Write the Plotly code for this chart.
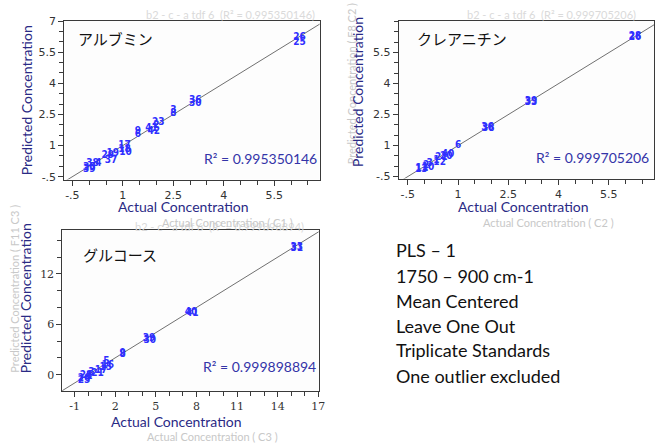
import plotly.graph_objects as go

W, H = 668, 443

# ---------------- data ----------------
alb_labels = ["26", "25", "36", "30", "3", "8", "23", "2", "41", "42", "9", "6",
              "17", "18", "10", "19", "29", "37", "4", "38", "35", "39"]
alb_actual = [6.25, 6.25, 3.15, 3.15, 2.5, 2.5, 2.05, 2.0, 1.85, 1.92, 1.45, 1.45,
              1.05, 1.05, 1.08, 0.7, 0.55, 0.65, 0.27, 0.1, 0.0, 0.0]
alb_pred = [6.2, 5.97, 3.15, 3.02, 2.68, 2.54, 2.12, 1.95, 1.82, 1.68, 1.7, 1.52,
            1.0, 0.8, 0.65, 0.6, 0.5, 0.3, 0.12, 0.15, -0.05, -0.15]
alb_r2 = "R² = 0.995350146"

cre_labels = ["28", "26", "39", "33", "36", "38", "6", "40", "20", "21", "12", "1",
              "3", "2", "10", "11", "13"]
cre_actual = [6.28, 6.28, 3.18, 3.18, 1.88, 1.9, 1.0, 0.7, 0.65, 0.5, 0.45, 0.35,
              0.15, 0.05, 0.1, -0.08, -0.1]
cre_pred = [6.28, 6.22, 3.12, 3.08, 1.86, 1.82, 1.02, 0.55, 0.48, 0.4, 0.18, 0.3,
            0.15, 0.05, -0.05, -0.1, -0.15]
cre_r2 = "R² = 0.999705206"

glu_labels = ["33", "31", "40", "41", "39", "30", "9", "8", "5", "16", "15", "17",
              "21", "3", "28", "26", "25", "1"]
glu_actual = [15.4, 15.4, 7.6, 7.7, 4.5, 4.55, 2.55, 2.55, 1.35, 1.45, 1.3, 0.95,
              0.7, 0.25, -0.15, -0.3, -0.3, 0.1]
glu_pred = [15.15, 15.0, 7.35, 7.25, 4.25, 4.1, 2.5, 2.35, 1.6, 1.05, 0.85, 0.5,
            0.15, 0.25, -0.1, -0.45, -0.7, -0.2]
glu_r2 = "R² = 0.999898894"

titles = ["アルブミン", "クレアニチン", "グルコース"]

top_ticks = [-0.5, 1, 2.5, 4, 5.5, 7]
top_tick_text = ["-.5", "1", "2.5", "4", "5.5", "7"]
cre_yticks = [-0.5, 1, 2.5, 4, 5.5]
cre_ytick_text = ["-.5", "1", "2.5", "4", "5.5"]
glu_xticks = [-1, 2, 5, 8, 11, 14, 17]
glu_yticks = [0, 6, 12]

notes = ["PLS – 1", "1750 – 900 cm-1", "Mean Centered", "Leave One Out",
         "Triplicate Standards", "One outlier excluded"]

# ---------------- helpers ----------------
def px_x(p):
    return p / W

def px_y(p):
    return 1 - p / H

POINT_COLOR = "#2f2fff"
TITLE_COLOR = "#2a2a85"
AXIS_COLOR = "#3a3a3a"

fig = go.Figure()

panels = [
    dict(lbl=alb_labels, x=alb_actual, y=alb_pred, xa="x", ya="y"),
    dict(lbl=cre_labels, x=cre_actual, y=cre_pred, xa="x2", ya="y2"),
    dict(lbl=glu_labels, x=glu_actual, y=glu_pred, xa="x3", ya="y3"),
]
diag = [[-2, 8], [-2, 8], [-3, 18]]

for p, d in zip(panels, diag):
    fig.add_trace(go.Scatter(x=d, y=d, mode="lines", xaxis=p["xa"], yaxis=p["ya"],
                             line=dict(color="#707070", width=1), hoverinfo="skip",
                             showlegend=False))
    fig.add_trace(go.Scatter(x=p["x"], y=p["y"], mode="text", text=p["lbl"],
                             xaxis=p["xa"], yaxis=p["ya"], textposition="middle center",
                             textfont=dict(color=POINT_COLOR, size=10,
                                           family="DejaVu Sans Condensed, DejaVu Sans",
                                           weight="bold"),
                             showlegend=False, cliponaxis=False))

def axis(domain, rng, tickvals, ticktext, minor_dtick, anchor, family="DejaVu Sans"):
    return dict(domain=domain, range=rng, tickmode="array", tickvals=tickvals,
                ticktext=ticktext, ticks="outside", ticklen=5, tickcolor=AXIS_COLOR,
                showline=True, linecolor=AXIS_COLOR, linewidth=1, mirror=True,
                showgrid=False, zeroline=False, anchor=anchor,
                tickfont=dict(size=11, color="#333333", family=family),
                minor=dict(dtick=minor_dtick, ticks="outside", ticklen=4,
                           tickcolor=AXIS_COLOR, showgrid=False))

layout = dict(
    width=W, height=H, margin=dict(l=0, r=0, t=0, b=0),
    paper_bgcolor="white", plot_bgcolor="#fdfdfd", showlegend=False,
    xaxis=axis([px_x(65), px_x(323)], [-0.74, 6.85], top_ticks, top_tick_text, 0.5, "y"),
    yaxis=axis([px_y(178), px_y(15)], [-0.64, 7.02], top_ticks, top_tick_text, 0.5, "x"),
    xaxis2=axis([px_x(403), px_x(661)], [-0.77, 6.85], top_ticks, top_tick_text, 0.5, "y2"),
    yaxis2=axis([px_y(177), px_y(15)], [-0.6, 7.05], cre_yticks, cre_ytick_text, 0.5, "x2"),
    xaxis3=axis([px_x(63), px_x(322)], [-1.9, 17.02], glu_xticks,
                [str(v) for v in glu_xticks], 1, "y3", "DejaVu Serif"),
    yaxis3=axis([px_y(395), px_y(230)], [-1.97, 17.2], glu_yticks,
                [str(v) for v in glu_yticks], 2, "x3", "DejaVu Serif"),
)
fig.update_layout(**layout)

ann = []
def add_text(x, y, text, size, color, family="Lato", angle=0, xanchor="center"):
    ann.append(dict(x=px_x(x), y=px_y(y), xref="paper", yref="paper", text=text,
                    showarrow=False, textangle=angle, xanchor=xanchor, yanchor="middle",
                    font=dict(size=size, color=color, family=family)))

GHOST = "#dadada"
# ghost texts (faint, behind)
add_text(233, 9, "b2 - c - a tdf 6  (R² = 0.995350146)", 11, GHOST, "Lato")
add_text(557, 9, "b2 - c - a tdf 6  (R² = 0.999705206)", 11, GHOST, "Lato")
add_text(222, 226, "b2 - c - a tdf 6  (R² = 0.999898894)", 11, GHOST, "Lato")
add_text(230, 222, "Actual Concentration ( C1 )", 11, "#c8c8c8", "Lato")
add_text(554, 222, "Actual Concentration ( C2 )", 11, "#c8c8c8", "Lato")
add_text(215, 441, "Actual Concentration ( C3 )", 11, "#c8c8c8", "Lato")
add_text(355, 80, "Predicted Concentration ( F8 C2 )", 11, "#c8c8c8", "Lato", -90)
add_text(15, 290, "Predicted Concentration ( F11 C3 )", 11, "#c8c8c8", "Lato", -90)

# axis titles
add_text(185, 206, "Actual Concentration", 14, TITLE_COLOR)
add_text(27, 97, "Predicted Concentration", 14, TITLE_COLOR, angle=-90)
add_text(529, 206, "Actual Concentration", 14, TITLE_COLOR)
add_text(362, 88, "Predicted Concentration", 14, TITLE_COLOR, angle=-90)
add_text(178, 426, "Actual Concentration", 14, TITLE_COLOR)
add_text(26, 300, "Predicted Concentration", 14, TITLE_COLOR, angle=-90)

# panel titles (Japanese)
add_text(77, 33, titles[0], 15, "#111111", "Noto Sans CJK JP", xanchor="left")
add_text(419, 33, titles[1], 15, "#111111", "Noto Sans CJK JP", xanchor="left")
add_text(82, 255, titles[2], 15, "#111111", "Noto Sans CJK JP", xanchor="left")

# R² labels
add_text(204, 156, alb_r2, 14, "#3434a8", xanchor="left")
add_text(540, 155, cre_r2, 14, "#3434a8", xanchor="left")
add_text(203, 370, glu_r2, 14, "#3434a8", xanchor="left")

# notes panel
note_y = [250, 277, 302, 328, 353, 379]
for t, yy in zip(notes, note_y):
    add_text(398, yy, t, 18, "#111111", "Lato", xanchor="left")

fig.update_layout(annotations=ann)
fig.write_html("out.html")
